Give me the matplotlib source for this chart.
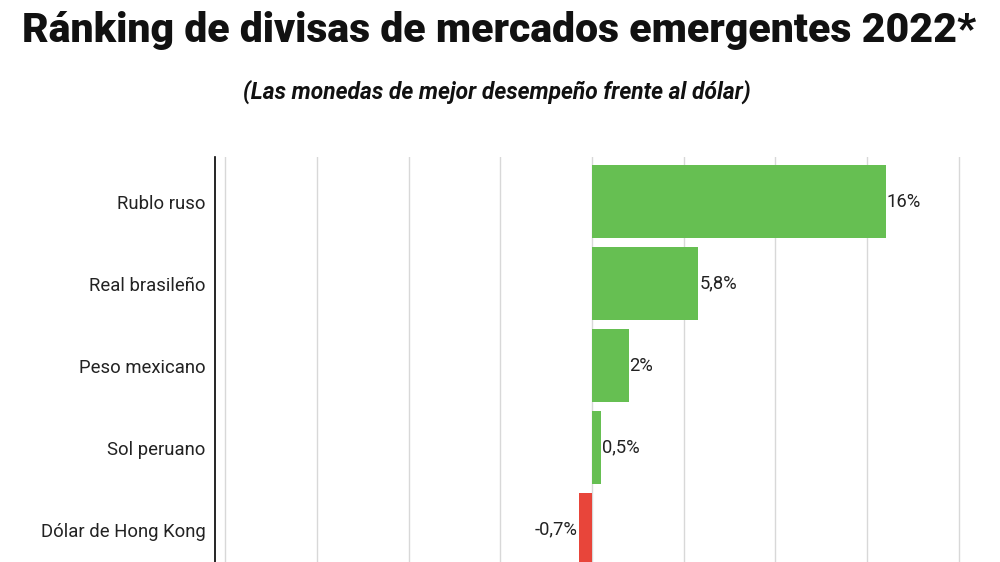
import matplotlib
matplotlib.use('Agg')
import matplotlib.pyplot as plt

# Data
divisas = ['Rublo ruso', 'Real brasileño', 'Peso mexicano', 'Sol peruano', 'Dólar de Hong Kong']
variacion = [16.0, 5.8, 2.0, 0.5, -0.7]
etiquetas = ['16%', '5,8%', '2%', '0,5%', '-0,7%']

fuente = 'Roboto'

fig = plt.figure(figsize=(10, 5.62), dpi=100)
ax = fig.add_axes([0.215, 0.0, 0.754, 1 - 157 / 562])

colors = ['#66bf52' if v >= 0 else '#e8453a' for v in variacion]
ypos = list(range(len(divisas)))
ax.barh(ypos, variacion, height=0.89, color=colors, zorder=2)

for y, v, lab in zip(ypos, variacion, etiquetas):
    if v >= 0:
        ax.text(v + 0.05, y, lab, va='center', ha='left', fontsize=13.2,
                family=fuente, color='#222222')
    else:
        ax.text(v - 0.1, y, lab, va='center', ha='right', fontsize=13.2,
                family=fuente, color='#222222')

ax.set_xlim(-20.55, 20.55)
ax.set_ylim(4.396, -0.543)
ax.set_xticks([-20, -15, -10, -5, 0, 5, 10, 15, 20])
ax.xaxis.grid(True, color='#d8d8d8', linewidth=1, zorder=0)
ax.tick_params(axis='x', length=0, labelbottom=False)
ax.set_yticks(ypos)
ax.set_yticklabels(divisas, fontsize=13.3, family=fuente, color='#222222')
ax.tick_params(axis='y', length=0, pad=7)
for s in ['top', 'right', 'bottom']:
    ax.spines[s].set_visible(False)
ax.spines['left'].set_color('black')
ax.spines['left'].set_linewidth(1.2)

fig.text(0.499, 0.945, 'Ránking de divisas de mercados emergentes 2022*', ha='center',
         va='center', fontsize=29.5, fontweight='black', family=fuente, color='#111111')
fig.text(0.497, 0.836, '(Las monedas de mejor desempeño frente al dólar)', ha='center',
         va='center', fontsize=16.4, fontweight='bold', fontstyle='italic', family=fuente,
         color='#111111')

fig.savefig('out.png', dpi=100)
